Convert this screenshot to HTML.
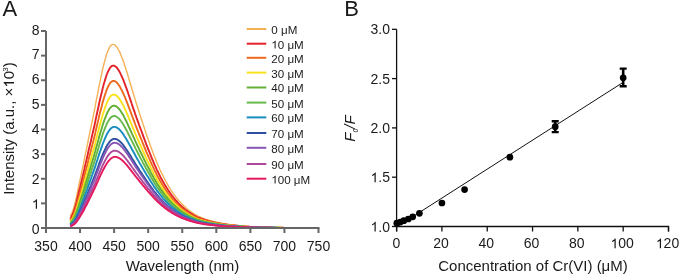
<!DOCTYPE html>
<html><head><meta charset="utf-8"><style>
html,body{margin:0;padding:0;background:#fff;}
svg{display:block;will-change:transform;}
text{font-family:"Liberation Sans",sans-serif;}
.o{fill-opacity:0}
</style></head><body>
<svg width="680" height="276" viewBox="0 0 680 276">

<text x="2.4" y="15.9" font-size="22" fill="#1a1a1a">A</text>
<text x="344.3" y="15.9" font-size="22" fill="#1a1a1a">B</text>
<g fill="none" stroke-linejoin="round">
<path stroke="#F4B055" stroke-width="1.4" d="M70.3,216.33L70.5,215.80L71.2,214.40L71.9,212.89L72.6,211.26L73.2,209.51L73.9,207.32L74.6,204.76L75.3,202.01L76.0,199.10L76.7,196.01L77.3,192.76L78.0,189.35L78.7,185.80L79.4,182.62L80.1,179.68L80.7,176.64L81.4,173.50L82.1,170.27L82.8,166.94L83.5,163.54L84.2,160.05L84.8,156.77L85.5,153.61L86.2,150.37L86.9,147.08L87.6,143.72L88.2,140.31L88.9,136.85L89.6,133.58L90.3,130.43L91.0,127.24L91.6,123.99L92.3,120.71L93.0,117.39L93.7,114.04L94.4,110.67L95.1,107.14L95.7,103.52L96.4,99.92L97.1,96.34L97.8,92.79L98.5,89.29L99.1,85.84L99.8,82.46L100.5,79.15L101.2,75.92L101.9,72.80L102.5,69.78L103.2,66.84L103.9,64.01L104.6,61.34L105.3,58.84L106.0,56.50L106.6,54.36L107.3,52.40L108.0,50.64L108.7,49.09L109.4,47.75L110.0,46.63L110.7,45.73L111.4,45.05L112.1,44.61L112.8,44.40L113.4,44.41L114.1,44.61L114.8,44.99L115.5,45.53L116.2,46.24L116.9,47.10L117.5,48.11L118.2,49.26L118.9,50.54L119.6,51.92L120.3,53.42L120.9,55.02L121.6,56.72L122.3,58.50L123.0,60.36L123.7,62.29L124.3,64.28L125.0,66.33L125.7,68.43L126.4,70.58L127.1,72.77L127.8,74.99L128.4,77.24L129.1,79.52L129.8,81.78L130.5,84.04L131.2,86.31L131.8,88.58L132.5,90.85L133.2,93.12L133.9,95.39L134.6,97.64L135.2,99.88L135.9,102.08L136.6,104.27L137.3,106.44L138.0,108.58L138.7,110.71L139.3,112.81L140.0,114.89L140.7,116.95L141.4,118.97L142.1,120.97L142.7,123.12L143.4,125.24L144.1,127.34L144.8,129.41L145.5,131.45L146.1,133.47L146.8,135.45L147.5,137.41L148.2,139.33L148.9,141.23L149.6,143.18L150.2,145.14L150.9,147.06L151.6,148.95L152.3,150.81L153.0,152.63L153.6,154.43L154.3,156.19L155.0,157.92L155.7,159.62L156.4,161.29L157.0,162.94L157.7,164.55L158.4,166.13L159.1,167.67L159.8,169.19L160.4,170.67L161.1,172.12L161.8,173.54L162.5,174.93L163.2,176.29L163.9,177.62L164.5,178.92L165.2,180.21L165.9,181.48L166.6,182.73L167.3,183.94L167.9,185.13L168.6,186.29L169.3,187.42L170.0,188.52L170.7,189.60L171.4,190.65L172.0,191.67L172.7,192.67L173.4,193.65L174.1,194.60L174.8,195.52L175.4,196.42L176.1,197.30L176.8,198.16L177.5,198.99L178.2,199.81L178.8,200.60L179.5,201.38L180.2,202.14L180.9,202.87L181.6,203.59L182.2,204.28L182.9,204.96L183.6,205.62L184.3,206.26L185.0,206.89L185.7,207.49L186.3,208.08L187.0,208.66L187.7,209.21L188.4,209.76L189.1,210.28L189.7,210.79L190.4,211.30L191.1,211.80L191.8,212.29L192.5,212.76L193.2,213.22L193.8,213.67L194.5,214.10L195.2,214.52L195.9,214.93L196.6,215.33L197.2,215.71L197.9,216.05L198.6,216.37L199.3,216.68L200.0,216.98L200.6,217.27L201.3,217.55L202.0,217.83L202.7,218.10L203.4,218.36L204.1,218.61L204.7,218.86L205.4,219.09L206.1,219.33L206.8,219.55L207.5,219.77L208.1,219.99L208.8,220.19L209.5,220.40L210.2,220.59L210.9,220.78L211.5,220.97L212.2,221.15L212.9,221.33L213.6,221.50L214.3,221.66L215.0,221.82L215.6,221.99L216.3,222.15L217.0,222.31L217.7,222.47L218.4,222.62L219.0,222.77L219.7,222.91L220.4,223.05L221.1,223.18L221.8,223.31L222.4,223.44L223.1,223.56L223.8,223.68L224.5,223.80L225.2,223.91L225.8,224.02L226.5,224.13L227.2,224.23L227.9,224.33L228.6,224.43L229.3,224.53L229.9,224.62L230.6,224.71L231.3,224.80L232.0,224.88L232.7,224.96L233.3,225.04L234.0,225.12L234.7,225.20L235.4,225.27L236.1,225.34L236.8,225.41L237.4,225.48L238.1,225.55L238.8,225.61L239.5,225.67L240.2,225.73L240.8,225.81L241.5,225.88L242.2,225.96L242.9,226.03L243.6,226.10L244.2,226.17L244.9,226.24L245.6,226.30L246.3,226.36L247.0,226.42L247.7,226.48L248.3,226.53L249.0,226.59L249.7,226.64L250.4,226.69L251.1,226.74L251.7,226.78L252.4,226.83L253.1,226.87L253.8,226.91L254.5,226.95L255.1,226.99L255.8,227.03L256.5,227.06L257.2,227.10L257.9,227.13L258.6,227.16L259.2,227.19L259.9,227.22L260.6,227.25L261.3,227.28L262.0,227.31L262.6,227.33L263.3,227.36L264.0,227.38L264.7,227.41L265.4,227.43L266.0,227.45L266.7,227.47L267.4,227.49L268.1,227.51L268.8,227.53L269.5,227.55L270.1,227.56L270.8,227.58L271.5,227.59L272.2,227.61L272.9,227.62L273.5,227.64L274.2,227.65L274.9,227.67L275.6,227.68L276.3,227.69L276.9,227.70L277.6,227.71L278.3,227.72L279.0,227.73L279.7,227.74L280.4,227.75L281.0,227.76L281.7,227.77L282.4,227.78L283.1,227.79L283.8,227.80L284.4,227.81"/>
<path stroke="#E3242B" stroke-width="1.9" d="M70.3,218.69L70.5,218.25L71.2,217.08L71.9,215.80L72.6,214.43L73.2,212.94L73.9,211.17L74.6,208.99L75.3,206.66L76.0,204.17L76.7,201.52L77.3,198.73L78.0,195.79L78.7,192.71L79.4,189.81L80.1,187.24L80.7,184.56L81.4,181.80L82.1,178.96L82.8,176.03L83.5,173.02L84.2,169.94L84.8,166.96L85.5,164.14L86.2,161.27L86.9,158.33L87.6,155.34L88.2,152.30L88.9,149.22L89.6,146.24L90.3,143.42L91.0,140.56L91.6,137.66L92.3,134.72L93.0,131.75L93.7,128.76L94.4,125.74L95.1,122.61L95.7,119.37L96.4,116.14L97.1,112.93L97.8,109.75L98.5,106.60L99.1,103.50L99.8,100.46L100.5,97.48L101.2,94.58L101.9,91.76L102.5,89.03L103.2,86.38L103.9,83.82L104.6,81.40L105.3,79.12L106.0,76.99L106.6,75.03L107.3,73.23L108.0,71.61L108.7,70.17L109.4,68.92L110.0,67.86L110.7,67.01L111.4,66.35L112.1,65.89L112.8,65.64L113.4,65.60L114.1,65.73L114.8,66.01L115.5,66.44L116.2,67.03L116.9,67.75L117.5,68.60L118.2,69.58L118.9,70.68L119.6,71.87L120.3,73.17L120.9,74.56L121.6,76.03L122.3,77.59L123.0,79.21L123.7,80.90L124.3,82.65L125.0,84.45L125.7,86.30L126.4,88.18L127.1,90.11L127.8,92.07L128.4,94.05L129.1,96.06L129.8,98.07L130.5,100.06L131.2,102.07L131.8,104.08L132.5,106.09L133.2,108.09L133.9,110.10L134.6,112.09L135.2,114.08L135.9,116.03L136.6,117.97L137.3,119.90L138.0,121.80L138.7,123.69L139.3,125.55L140.0,127.40L140.7,129.22L141.4,131.02L142.1,132.80L142.7,134.68L143.4,136.56L144.1,138.42L144.8,140.26L145.5,142.08L146.1,143.87L146.8,145.63L147.5,147.37L148.2,149.08L148.9,150.76L149.6,152.48L150.2,154.22L150.9,155.93L151.6,157.61L152.3,159.26L153.0,160.89L153.6,162.48L154.3,164.05L155.0,165.59L155.7,167.10L156.4,168.59L157.0,170.05L157.7,171.48L158.4,172.88L159.1,174.26L159.8,175.61L160.4,176.93L161.1,178.22L161.8,179.49L162.5,180.72L163.2,181.93L163.9,183.12L164.5,184.27L165.2,185.42L165.9,186.55L166.6,187.66L167.3,188.74L167.9,189.80L168.6,190.83L169.3,191.84L170.0,192.82L170.7,193.78L171.4,194.71L172.0,195.63L172.7,196.52L173.4,197.38L174.1,198.23L174.8,199.05L175.4,199.86L176.1,200.64L176.8,201.40L177.5,202.14L178.2,202.87L178.8,203.58L179.5,204.27L180.2,204.95L180.9,205.60L181.6,206.24L182.2,206.86L182.9,207.46L183.6,208.05L184.3,208.62L185.0,209.18L185.7,209.72L186.3,210.25L187.0,210.76L187.7,211.25L188.4,211.74L189.1,212.21L189.7,212.66L190.4,213.11L191.1,213.56L191.8,213.99L192.5,214.41L193.2,214.82L193.8,215.22L194.5,215.61L195.2,215.98L195.9,216.35L196.6,216.70L197.2,217.04L197.9,217.36L198.6,217.64L199.3,217.91L200.0,218.18L200.6,218.44L201.3,218.69L202.0,218.94L202.7,219.18L203.4,219.41L204.1,219.63L204.7,219.85L205.4,220.07L206.1,220.27L206.8,220.47L207.5,220.67L208.1,220.86L208.8,221.05L209.5,221.23L210.2,221.40L210.9,221.57L211.5,221.74L212.2,221.90L212.9,222.05L213.6,222.21L214.3,222.35L215.0,222.50L215.6,222.64L216.3,222.79L217.0,222.93L217.7,223.07L218.4,223.20L219.0,223.34L219.7,223.46L220.4,223.59L221.1,223.71L221.8,223.82L222.4,223.94L223.1,224.05L223.8,224.15L224.5,224.26L225.2,224.36L225.8,224.45L226.5,224.55L227.2,224.64L227.9,224.73L228.6,224.82L229.3,224.90L229.9,224.99L230.6,225.07L231.3,225.15L232.0,225.22L232.7,225.29L233.3,225.37L234.0,225.44L234.7,225.50L235.4,225.57L236.1,225.63L236.8,225.70L237.4,225.76L238.1,225.81L238.8,225.87L239.5,225.93L240.2,225.98L240.8,226.04L241.5,226.11L242.2,226.18L242.9,226.24L243.6,226.31L244.2,226.37L244.9,226.43L245.6,226.48L246.3,226.54L247.0,226.59L247.7,226.64L248.3,226.69L249.0,226.74L249.7,226.79L250.4,226.83L251.1,226.87L251.7,226.91L252.4,226.95L253.1,226.99L253.8,227.03L254.5,227.06L255.1,227.10L255.8,227.13L256.5,227.16L257.2,227.19L257.9,227.22L258.6,227.25L259.2,227.28L259.9,227.31L260.6,227.33L261.3,227.36L262.0,227.38L262.6,227.41L263.3,227.43L264.0,227.45L264.7,227.47L265.4,227.49L266.0,227.51L266.7,227.53L267.4,227.54L268.1,227.56L268.8,227.58L269.5,227.59L270.1,227.61L270.8,227.62L271.5,227.64L272.2,227.65L272.9,227.66L273.5,227.68L274.2,227.69L274.9,227.70L275.6,227.71L276.3,227.72L276.9,227.73L277.6,227.74L278.3,227.75L279.0,227.76L279.7,227.77L280.4,227.78L281.0,227.79L281.7,227.80L282.4,227.80L283.1,227.81L283.8,227.82L284.4,227.83"/>
<path stroke="#EE6A1F" stroke-width="1.9" d="M70.3,220.40L70.5,220.02L71.2,219.02L71.9,217.92L72.6,216.73L73.2,215.44L73.9,213.97L74.6,212.09L75.3,210.06L76.0,207.88L76.7,205.56L77.3,203.10L78.0,200.51L78.7,197.79L79.4,195.10L80.1,192.79L80.7,190.39L81.4,187.91L82.1,185.34L82.8,182.70L83.5,179.99L84.2,177.20L84.8,174.43L85.5,171.87L86.2,169.26L86.9,166.59L87.6,163.86L88.2,161.09L88.9,158.28L89.6,155.50L90.3,152.92L91.0,150.30L91.6,147.65L92.3,144.96L93.0,142.24L93.7,139.50L94.4,136.73L95.1,133.90L95.7,130.93L96.4,127.97L97.1,125.02L97.8,122.10L98.5,119.21L99.1,116.36L99.8,113.56L100.5,110.82L101.2,108.14L101.9,105.54L102.5,103.02L103.2,100.58L103.9,98.20L104.6,95.95L105.3,93.83L106.0,91.85L106.6,90.01L107.3,88.33L108.0,86.80L108.7,85.44L109.4,84.25L110.0,83.23L110.7,82.40L111.4,81.74L112.1,81.27L112.8,80.99L113.4,80.90L114.1,80.97L114.8,81.18L115.5,81.53L116.2,82.02L116.9,82.63L117.5,83.37L118.2,84.23L118.9,85.19L119.6,86.25L120.3,87.39L120.9,88.63L121.6,89.94L122.3,91.33L123.0,92.78L123.7,94.30L124.3,95.86L125.0,97.48L125.7,99.14L126.4,100.84L127.1,102.58L127.8,104.34L128.4,106.13L129.1,107.95L129.8,109.77L130.5,111.57L131.2,113.39L131.8,115.21L132.5,117.03L133.2,118.85L133.9,120.66L134.6,122.47L135.2,124.28L135.9,126.05L136.6,127.81L137.3,129.56L138.0,131.29L138.7,133.00L139.3,134.70L140.0,136.38L140.7,138.03L141.4,139.67L142.1,141.29L142.7,142.97L143.4,144.68L144.1,146.38L144.8,148.05L145.5,149.70L146.1,151.32L146.8,152.93L147.5,154.51L148.2,156.07L148.9,157.60L149.6,159.15L150.2,160.73L150.9,162.29L151.6,163.82L152.3,165.32L153.0,166.80L153.6,168.25L154.3,169.68L155.0,171.08L155.7,172.46L156.4,173.81L157.0,175.14L157.7,176.45L158.4,177.73L159.1,178.98L159.8,180.21L160.4,181.41L161.1,182.59L161.8,183.74L162.5,184.87L163.2,185.98L163.9,187.06L164.5,188.11L165.2,189.15L165.9,190.18L166.6,191.19L167.3,192.18L167.9,193.14L168.6,194.08L169.3,195.00L170.0,195.90L170.7,196.77L171.4,197.62L172.0,198.46L172.7,199.27L173.4,200.06L174.1,200.83L174.8,201.58L175.4,202.32L176.1,203.03L176.8,203.73L177.5,204.40L178.2,205.06L178.8,205.71L179.5,206.34L180.2,206.96L180.9,207.56L181.6,208.14L182.2,208.70L182.9,209.26L183.6,209.79L184.3,210.31L185.0,210.82L185.7,211.31L186.3,211.79L187.0,212.26L187.7,212.71L188.4,213.15L189.1,213.58L189.7,214.00L190.4,214.41L191.1,214.82L191.8,215.21L192.5,215.60L193.2,215.97L193.8,216.33L194.5,216.68L195.2,217.03L195.9,217.36L196.6,217.68L197.2,217.99L197.9,218.29L198.6,218.55L199.3,218.80L200.0,219.04L200.6,219.28L201.3,219.51L202.0,219.73L202.7,219.95L203.4,220.16L204.1,220.37L204.7,220.57L205.4,220.76L206.1,220.95L206.8,221.13L207.5,221.31L208.1,221.49L208.8,221.65L209.5,221.82L210.2,221.98L210.9,222.13L211.5,222.29L212.2,222.43L212.9,222.58L213.6,222.71L214.3,222.85L215.0,222.98L215.6,223.11L216.3,223.25L217.0,223.38L217.7,223.50L218.4,223.62L219.0,223.74L219.7,223.86L220.4,223.97L221.1,224.08L221.8,224.19L222.4,224.29L223.1,224.39L223.8,224.49L224.5,224.58L225.2,224.68L225.8,224.76L226.5,224.85L227.2,224.94L227.9,225.02L228.6,225.10L229.3,225.18L229.9,225.25L230.6,225.32L231.3,225.40L232.0,225.46L232.7,225.53L233.3,225.60L234.0,225.66L234.7,225.72L235.4,225.78L236.1,225.84L236.8,225.90L237.4,225.95L238.1,226.01L238.8,226.06L239.5,226.11L240.2,226.16L240.8,226.21L241.5,226.27L242.2,226.34L242.9,226.40L243.6,226.45L244.2,226.51L244.9,226.56L245.6,226.61L246.3,226.66L247.0,226.71L247.7,226.76L248.3,226.80L249.0,226.85L249.7,226.89L250.4,226.93L251.1,226.97L251.7,227.01L252.4,227.04L253.1,227.08L253.8,227.11L254.5,227.14L255.1,227.18L255.8,227.21L256.5,227.24L257.2,227.26L257.9,227.29L258.6,227.32L259.2,227.34L259.9,227.37L260.6,227.39L261.3,227.41L262.0,227.44L262.6,227.46L263.3,227.48L264.0,227.50L264.7,227.51L265.4,227.53L266.0,227.55L266.7,227.57L267.4,227.58L268.1,227.60L268.8,227.61L269.5,227.63L270.1,227.64L270.8,227.66L271.5,227.67L272.2,227.68L272.9,227.69L273.5,227.71L274.2,227.72L274.9,227.73L275.6,227.74L276.3,227.75L276.9,227.76L277.6,227.77L278.3,227.77L279.0,227.78L279.7,227.79L280.4,227.80L281.0,227.81L281.7,227.81L282.4,227.82L283.1,227.83L283.8,227.84L284.4,227.84"/>
<path stroke="#F9E11B" stroke-width="1.9" d="M70.3,221.79L70.5,221.46L71.2,220.60L71.9,219.66L72.6,218.63L73.2,217.52L73.9,216.29L74.6,214.66L75.3,212.90L76.0,211.00L76.7,208.97L77.3,206.80L78.0,204.52L78.7,202.11L79.4,199.62L80.1,197.55L80.7,195.39L81.4,193.16L82.1,190.85L82.8,188.47L83.5,186.02L84.2,183.50L84.8,180.94L85.5,178.61L86.2,176.23L86.9,173.80L87.6,171.32L88.2,168.79L88.9,166.22L89.6,163.64L90.3,161.28L91.0,158.88L91.6,156.45L92.3,153.99L93.0,151.49L93.7,148.98L94.4,146.44L95.1,143.88L95.7,141.16L96.4,138.44L97.1,135.73L97.8,133.05L98.5,130.39L99.1,127.77L99.8,125.19L100.5,122.66L101.2,120.19L101.9,117.79L102.5,115.46L103.2,113.21L103.9,111.01L104.6,108.92L105.3,106.95L106.0,105.10L106.6,103.38L107.3,101.80L108.0,100.36L108.7,99.08L109.4,97.94L110.0,96.97L110.7,96.16L111.4,95.51L112.1,95.04L112.8,94.73L113.4,94.60L114.1,94.62L114.8,94.77L115.5,95.05L116.2,95.46L116.9,95.98L117.5,96.62L118.2,97.36L118.9,98.21L119.6,99.14L120.3,100.16L120.9,101.25L121.6,102.42L122.3,103.66L123.0,104.97L123.7,106.33L124.3,107.73L125.0,109.19L125.7,110.68L126.4,112.21L127.1,113.78L127.8,115.37L128.4,116.99L129.1,118.63L129.8,120.28L130.5,121.92L131.2,123.57L131.8,125.21L132.5,126.87L133.2,128.52L133.9,130.16L134.6,131.81L135.2,133.44L135.9,135.06L136.6,136.66L137.3,138.25L138.0,139.82L138.7,141.38L139.3,142.92L140.0,144.45L140.7,145.96L141.4,147.45L142.1,148.92L142.7,150.43L143.4,151.99L144.1,153.53L144.8,155.05L145.5,156.56L146.1,158.04L146.8,159.50L147.5,160.94L148.2,162.36L148.9,163.76L149.6,165.15L150.2,166.59L150.9,168.01L151.6,169.40L152.3,170.78L153.0,172.13L153.6,173.45L154.3,174.75L155.0,176.03L155.7,177.29L156.4,178.52L157.0,179.73L157.7,180.92L158.4,182.09L159.1,183.24L159.8,184.36L160.4,185.45L161.1,186.53L161.8,187.58L162.5,188.61L163.2,189.62L163.9,190.60L164.5,191.56L165.2,192.51L165.9,193.45L166.6,194.37L167.3,195.27L167.9,196.15L168.6,197.01L169.3,197.85L170.0,198.67L170.7,199.47L171.4,200.25L172.0,201.01L172.7,201.75L173.4,202.47L174.1,203.17L174.8,203.86L175.4,204.53L176.1,205.18L176.8,205.82L177.5,206.44L178.2,207.04L178.8,207.63L179.5,208.21L180.2,208.77L180.9,209.32L181.6,209.85L182.2,210.37L182.9,210.87L183.6,211.36L184.3,211.84L185.0,212.30L185.7,212.75L186.3,213.19L187.0,213.61L187.7,214.03L188.4,214.43L189.1,214.82L189.7,215.20L190.4,215.57L191.1,215.95L191.8,216.31L192.5,216.66L193.2,217.00L193.8,217.33L194.5,217.66L195.2,217.97L195.9,218.27L196.6,218.57L197.2,218.85L197.9,219.13L198.6,219.36L199.3,219.59L200.0,219.81L200.6,220.03L201.3,220.24L202.0,220.45L202.7,220.64L203.4,220.84L204.1,221.03L204.7,221.21L205.4,221.39L206.1,221.56L206.8,221.73L207.5,221.89L208.1,222.05L208.8,222.20L209.5,222.35L210.2,222.50L210.9,222.64L211.5,222.78L212.2,222.91L212.9,223.05L213.6,223.17L214.3,223.30L215.0,223.42L215.6,223.53L216.3,223.66L217.0,223.77L217.7,223.89L218.4,224.00L219.0,224.11L219.7,224.22L220.4,224.32L221.1,224.42L221.8,224.52L222.4,224.61L223.1,224.70L223.8,224.79L224.5,224.88L225.2,224.96L225.8,225.04L226.5,225.12L227.2,225.20L227.9,225.28L228.6,225.35L229.3,225.42L229.9,225.49L230.6,225.56L231.3,225.62L232.0,225.68L232.7,225.74L233.3,225.80L234.0,225.86L234.7,225.92L235.4,225.97L236.1,226.03L236.8,226.08L237.4,226.13L238.1,226.18L238.8,226.23L239.5,226.27L240.2,226.32L240.8,226.36L241.5,226.42L242.2,226.48L242.9,226.53L243.6,226.58L244.2,226.64L244.9,226.68L245.6,226.73L246.3,226.78L247.0,226.82L247.7,226.86L248.3,226.91L249.0,226.95L249.7,226.98L250.4,227.02L251.1,227.06L251.7,227.09L252.4,227.12L253.1,227.16L253.8,227.19L254.5,227.22L255.1,227.25L255.8,227.27L256.5,227.30L257.2,227.33L257.9,227.35L258.6,227.38L259.2,227.40L259.9,227.42L260.6,227.44L261.3,227.46L262.0,227.48L262.6,227.50L263.3,227.52L264.0,227.54L264.7,227.56L265.4,227.57L266.0,227.59L266.7,227.60L267.4,227.62L268.1,227.63L268.8,227.65L269.5,227.66L270.1,227.67L270.8,227.69L271.5,227.70L272.2,227.71L272.9,227.72L273.5,227.73L274.2,227.74L274.9,227.75L275.6,227.76L276.3,227.77L276.9,227.78L277.6,227.79L278.3,227.79L279.0,227.80L279.7,227.81L280.4,227.82L281.0,227.82L281.7,227.83L282.4,227.84L283.1,227.84L283.8,227.85L284.4,227.85"/>
<path stroke="#62B032" stroke-width="1.9" d="M70.3,222.87L70.5,222.59L71.2,221.84L71.9,221.03L72.6,220.13L73.2,219.16L73.9,218.10L74.6,216.70L75.3,215.15L76.0,213.48L76.7,211.68L77.3,209.76L78.0,207.73L78.7,205.57L79.4,203.31L80.1,201.38L80.7,199.43L81.4,197.40L82.1,195.31L82.8,193.14L83.5,190.90L84.2,188.60L84.8,186.24L85.5,184.07L86.2,181.88L86.9,179.65L87.6,177.37L88.2,175.04L88.9,172.67L89.6,170.27L90.3,168.06L91.0,165.85L91.6,163.60L92.3,161.32L93.0,159.01L93.7,156.69L94.4,154.34L95.1,151.98L95.7,149.47L96.4,146.95L97.1,144.44L97.8,141.95L98.5,139.48L99.1,137.05L99.8,134.65L100.5,132.29L101.2,129.99L101.9,127.75L102.5,125.58L103.2,123.48L103.9,121.42L104.6,119.46L105.3,117.60L106.0,115.86L106.6,114.24L107.3,112.75L108.0,111.38L108.7,110.16L109.4,109.07L110.0,108.13L110.7,107.34L111.4,106.70L112.1,106.21L112.8,105.89L113.4,105.72L114.1,105.70L114.8,105.80L115.5,106.02L116.2,106.36L116.9,106.81L117.5,107.36L118.2,108.02L118.9,108.77L119.6,109.60L120.3,110.51L120.9,111.49L121.6,112.55L122.3,113.66L123.0,114.84L123.7,116.08L124.3,117.35L125.0,118.67L125.7,120.04L126.4,121.43L127.1,122.86L127.8,124.31L128.4,125.79L129.1,127.29L129.8,128.80L130.5,130.31L131.2,131.81L131.8,133.32L132.5,134.83L133.2,136.35L133.9,137.86L134.6,139.37L135.2,140.87L135.9,142.36L136.6,143.83L137.3,145.29L138.0,146.74L138.7,148.17L139.3,149.59L140.0,150.99L140.7,152.38L141.4,153.75L142.1,155.10L142.7,156.47L143.4,157.91L144.1,159.32L144.8,160.73L145.5,162.11L146.1,163.47L146.8,164.82L147.5,166.15L148.2,167.45L148.9,168.74L149.6,170.01L150.2,171.34L150.9,172.64L151.6,173.93L152.3,175.19L153.0,176.44L153.6,177.66L154.3,178.86L155.0,180.04L155.7,181.19L156.4,182.33L157.0,183.45L157.7,184.55L158.4,185.62L159.1,186.68L159.8,187.71L160.4,188.72L161.1,189.71L161.8,190.68L162.5,191.63L163.2,192.56L163.9,193.47L164.5,194.36L165.2,195.23L165.9,196.10L166.6,196.95L167.3,197.78L167.9,198.59L168.6,199.38L169.3,200.16L170.0,200.91L170.7,201.65L171.4,202.37L172.0,203.07L172.7,203.75L173.4,204.42L174.1,205.07L174.8,205.70L175.4,206.32L176.1,206.93L176.8,207.51L177.5,208.08L178.2,208.64L178.8,209.19L179.5,209.72L180.2,210.24L180.9,210.74L181.6,211.23L182.2,211.71L182.9,212.17L183.6,212.63L184.3,213.07L185.0,213.50L185.7,213.91L186.3,214.32L187.0,214.71L187.7,215.09L188.4,215.47L189.1,215.83L189.7,216.18L190.4,216.52L191.1,216.86L191.8,217.20L192.5,217.52L193.2,217.84L193.8,218.14L194.5,218.44L195.2,218.73L195.9,219.01L196.6,219.28L197.2,219.55L197.9,219.80L198.6,220.02L199.3,220.24L200.0,220.44L200.6,220.64L201.3,220.84L202.0,221.02L202.7,221.21L203.4,221.39L204.1,221.56L204.7,221.73L205.4,221.89L206.1,222.05L206.8,222.21L207.5,222.36L208.1,222.51L208.8,222.65L209.5,222.79L210.2,222.92L210.9,223.05L211.5,223.18L212.2,223.30L212.9,223.43L213.6,223.54L214.3,223.66L215.0,223.77L215.6,223.88L216.3,223.99L217.0,224.10L217.7,224.20L218.4,224.31L219.0,224.41L219.7,224.51L220.4,224.60L221.1,224.69L221.8,224.78L222.4,224.87L223.1,224.95L223.8,225.04L224.5,225.12L225.2,225.19L225.8,225.27L226.5,225.34L227.2,225.41L227.9,225.48L228.6,225.55L229.3,225.62L229.9,225.68L230.6,225.74L231.3,225.80L232.0,225.86L232.7,225.92L233.3,225.97L234.0,226.03L234.7,226.08L235.4,226.13L236.1,226.18L236.8,226.23L237.4,226.27L238.1,226.32L238.8,226.36L239.5,226.40L240.2,226.45L240.8,226.49L241.5,226.54L242.2,226.59L242.9,226.64L243.6,226.69L244.2,226.74L244.9,226.78L245.6,226.83L246.3,226.87L247.0,226.91L247.7,226.95L248.3,226.99L249.0,227.02L249.7,227.06L250.4,227.09L251.1,227.13L251.7,227.16L252.4,227.19L253.1,227.22L253.8,227.25L254.5,227.28L255.1,227.30L255.8,227.33L256.5,227.35L257.2,227.38L257.9,227.40L258.6,227.42L259.2,227.44L259.9,227.46L260.6,227.48L261.3,227.50L262.0,227.52L262.6,227.54L263.3,227.56L264.0,227.57L264.7,227.59L265.4,227.60L266.0,227.62L266.7,227.63L267.4,227.65L268.1,227.66L268.8,227.67L269.5,227.69L270.1,227.70L270.8,227.71L271.5,227.72L272.2,227.73L272.9,227.74L273.5,227.75L274.2,227.76L274.9,227.77L275.6,227.78L276.3,227.79L276.9,227.79L277.6,227.80L278.3,227.81L279.0,227.82L279.7,227.82L280.4,227.83L281.0,227.84L281.7,227.84L282.4,227.85L283.1,227.85L283.8,227.86L284.4,227.87"/>
<path stroke="#68B94B" stroke-width="1.9" d="M70.3,223.76L70.5,223.53L71.2,222.88L71.9,222.18L72.6,221.40L73.2,220.55L73.9,219.62L74.6,218.44L75.3,217.09L76.0,215.62L76.7,214.03L77.3,212.33L78.0,210.52L78.7,208.60L79.4,206.58L80.1,204.76L80.7,203.00L81.4,201.16L82.1,199.26L82.8,197.29L83.5,195.26L84.2,193.16L84.8,191.01L85.5,188.98L86.2,186.97L86.9,184.92L87.6,182.82L88.2,180.69L88.9,178.51L89.6,176.30L90.3,174.22L91.0,172.18L91.6,170.10L92.3,168.00L93.0,165.87L93.7,163.72L94.4,161.55L95.1,159.37L95.7,157.07L96.4,154.74L97.1,152.42L97.8,150.11L98.5,147.83L99.1,145.57L99.8,143.34L100.5,141.15L101.2,139.01L101.9,136.92L102.5,134.90L103.2,132.94L103.9,131.03L104.6,129.19L105.3,127.45L106.0,125.82L106.6,124.29L107.3,122.88L108.0,121.58L108.7,120.42L109.4,119.38L110.0,118.47L110.7,117.71L111.4,117.08L112.1,116.59L112.8,116.25L113.4,116.06L114.1,116.00L114.8,116.06L115.5,116.23L116.2,116.51L116.9,116.89L117.5,117.37L118.2,117.94L118.9,118.60L119.6,119.34L120.3,120.15L120.9,121.04L121.6,121.98L122.3,122.99L123.0,124.06L123.7,125.17L124.3,126.33L125.0,127.53L125.7,128.77L126.4,130.04L127.1,131.33L127.8,132.66L128.4,134.01L129.1,135.38L129.8,136.76L130.5,138.14L131.2,139.51L131.8,140.90L132.5,142.28L133.2,143.67L133.9,145.05L134.6,146.44L135.2,147.81L135.9,149.18L136.6,150.53L137.3,151.87L138.0,153.20L138.7,154.51L139.3,155.82L140.0,157.11L140.7,158.38L141.4,159.64L142.1,160.88L142.7,162.12L143.4,163.44L144.1,164.75L144.8,166.03L145.5,167.31L146.1,168.56L146.8,169.80L147.5,171.02L148.2,172.22L148.9,173.40L149.6,174.57L150.2,175.78L150.9,176.98L151.6,178.17L152.3,179.33L153.0,180.47L153.6,181.60L154.3,182.70L155.0,183.79L155.7,184.85L156.4,185.90L157.0,186.93L157.7,187.94L158.4,188.93L159.1,189.90L159.8,190.85L160.4,191.79L161.1,192.70L161.8,193.59L162.5,194.47L163.2,195.32L163.9,196.16L164.5,196.98L165.2,197.78L165.9,198.58L166.6,199.36L167.3,200.13L167.9,200.87L168.6,201.60L169.3,202.32L170.0,203.01L170.7,203.69L171.4,204.36L172.0,205.00L172.7,205.63L173.4,206.25L174.1,206.85L174.8,207.43L175.4,208.00L176.1,208.56L176.8,209.10L177.5,209.63L178.2,210.14L178.8,210.64L179.5,211.13L180.2,211.61L180.9,212.08L181.6,212.53L182.2,212.97L182.9,213.40L183.6,213.82L184.3,214.22L185.0,214.62L185.7,215.00L186.3,215.37L187.0,215.74L187.7,216.09L188.4,216.43L189.1,216.77L189.7,217.09L190.4,217.41L191.1,217.72L191.8,218.03L192.5,218.33L193.2,218.62L193.8,218.90L194.5,219.18L195.2,219.44L195.9,219.70L196.6,219.95L197.2,220.20L197.9,220.43L198.6,220.64L199.3,220.84L200.0,221.03L200.6,221.21L201.3,221.39L202.0,221.57L202.7,221.74L203.4,221.90L204.1,222.06L204.7,222.22L205.4,222.37L206.1,222.52L206.8,222.66L207.5,222.80L208.1,222.93L208.8,223.06L209.5,223.19L210.2,223.32L210.9,223.44L211.5,223.56L212.2,223.67L212.9,223.78L213.6,223.89L214.3,223.99L215.0,224.10L215.6,224.20L216.3,224.30L217.0,224.40L217.7,224.50L218.4,224.59L219.0,224.69L219.7,224.78L220.4,224.86L221.1,224.95L221.8,225.03L222.4,225.11L223.1,225.19L223.8,225.27L224.5,225.34L225.2,225.41L225.8,225.48L226.5,225.55L227.2,225.62L227.9,225.68L228.6,225.74L229.3,225.80L229.9,225.86L230.6,225.92L231.3,225.97L232.0,226.03L232.7,226.08L233.3,226.13L234.0,226.18L234.7,226.23L235.4,226.27L236.1,226.32L236.8,226.36L237.4,226.41L238.1,226.45L238.8,226.49L239.5,226.53L240.2,226.57L240.8,226.60L241.5,226.65L242.2,226.70L242.9,226.75L243.6,226.79L244.2,226.83L244.9,226.88L245.6,226.92L246.3,226.96L247.0,226.99L247.7,227.03L248.3,227.06L249.0,227.10L249.7,227.13L250.4,227.16L251.1,227.19L251.7,227.22L252.4,227.25L253.1,227.28L253.8,227.31L254.5,227.33L255.1,227.36L255.8,227.38L256.5,227.40L257.2,227.42L257.9,227.45L258.6,227.47L259.2,227.49L259.9,227.50L260.6,227.52L261.3,227.54L262.0,227.56L262.6,227.57L263.3,227.59L264.0,227.61L264.7,227.62L265.4,227.63L266.0,227.65L266.7,227.66L267.4,227.67L268.1,227.69L268.8,227.70L269.5,227.71L270.1,227.72L270.8,227.73L271.5,227.74L272.2,227.75L272.9,227.76L273.5,227.77L274.2,227.78L274.9,227.79L275.6,227.79L276.3,227.80L276.9,227.81L277.6,227.82L278.3,227.82L279.0,227.83L279.7,227.84L280.4,227.84L281.0,227.85L281.7,227.85L282.4,227.86L283.1,227.87L283.8,227.87L284.4,227.88"/>
<path stroke="#198CC0" stroke-width="1.9" d="M70.3,224.56L70.5,224.35L71.2,223.81L71.9,223.21L72.6,222.54L73.2,221.81L73.9,221.01L74.6,220.03L75.3,218.86L76.0,217.59L76.7,216.21L77.3,214.73L78.0,213.14L78.7,211.46L79.4,209.68L80.1,208.00L80.7,206.43L81.4,204.80L82.1,203.10L82.8,201.34L83.5,199.51L84.2,197.63L84.8,195.70L85.5,193.83L86.2,192.02L86.9,190.17L87.6,188.27L88.2,186.34L88.9,184.37L89.6,182.37L90.3,180.44L91.0,178.58L91.6,176.70L92.3,174.78L93.0,172.85L93.7,170.89L94.4,168.91L95.1,166.92L95.7,164.86L96.4,162.74L97.1,160.62L97.8,158.51L98.5,156.42L99.1,154.36L99.8,152.32L100.5,150.32L101.2,148.36L101.9,146.44L102.5,144.58L103.2,142.78L103.9,141.03L104.6,139.34L105.3,137.73L106.0,136.22L106.6,134.80L107.3,133.49L108.0,132.28L108.7,131.19L109.4,130.21L110.0,129.36L110.7,128.63L111.4,128.02L112.1,127.54L112.8,127.20L113.4,126.98L114.1,126.90L114.8,126.92L115.5,127.05L116.2,127.27L116.9,127.59L117.5,127.99L118.2,128.49L118.9,129.06L119.6,129.71L120.3,130.42L120.9,131.20L121.6,132.04L122.3,132.94L123.0,133.88L123.7,134.88L124.3,135.91L125.0,136.99L125.7,138.09L126.4,139.23L127.1,140.40L127.8,141.59L128.4,142.80L129.1,144.03L129.8,145.28L130.5,146.52L131.2,147.76L131.8,149.01L132.5,150.26L133.2,151.51L133.9,152.76L134.6,154.01L135.2,155.26L135.9,156.50L136.6,157.72L137.3,158.93L138.0,160.13L138.7,161.32L139.3,162.50L140.0,163.67L140.7,164.82L141.4,165.96L142.1,167.09L142.7,168.20L143.4,169.39L144.1,170.57L144.8,171.74L145.5,172.89L146.1,174.03L146.8,175.15L147.5,176.26L148.2,177.35L148.9,178.42L149.6,179.48L150.2,180.56L150.9,181.65L151.6,182.73L152.3,183.78L153.0,184.82L153.6,185.84L154.3,186.84L155.0,187.83L155.7,188.79L156.4,189.74L157.0,190.67L157.7,191.59L158.4,192.49L159.1,193.37L159.8,194.24L160.4,195.09L161.1,195.92L161.8,196.73L162.5,197.52L163.2,198.30L163.9,199.06L164.5,199.80L165.2,200.53L165.9,201.25L166.6,201.96L167.3,202.66L167.9,203.34L168.6,204.00L169.3,204.65L170.0,205.28L170.7,205.90L171.4,206.50L172.0,207.09L172.7,207.66L173.4,208.22L174.1,208.77L174.8,209.30L175.4,209.82L176.1,210.32L176.8,210.81L177.5,211.29L178.2,211.76L178.8,212.21L179.5,212.66L180.2,213.10L180.9,213.52L181.6,213.93L182.2,214.33L182.9,214.72L183.6,215.10L184.3,215.47L185.0,215.83L185.7,216.18L186.3,216.52L187.0,216.85L187.7,217.17L188.4,217.48L189.1,217.78L189.7,218.08L190.4,218.37L191.1,218.65L191.8,218.93L192.5,219.20L193.2,219.47L193.8,219.72L194.5,219.97L195.2,220.22L195.9,220.45L196.6,220.68L197.2,220.90L197.9,221.12L198.6,221.31L199.3,221.49L200.0,221.66L200.6,221.83L201.3,221.99L202.0,222.15L202.7,222.31L203.4,222.46L204.1,222.60L204.7,222.74L205.4,222.88L206.1,223.01L206.8,223.14L207.5,223.27L208.1,223.39L208.8,223.51L209.5,223.63L210.2,223.74L210.9,223.85L211.5,223.96L212.2,224.06L212.9,224.17L213.6,224.26L214.3,224.36L215.0,224.45L215.6,224.54L216.3,224.63L217.0,224.73L217.7,224.82L218.4,224.90L219.0,224.99L219.7,225.07L220.4,225.15L221.1,225.23L221.8,225.30L222.4,225.38L223.1,225.45L223.8,225.52L224.5,225.58L225.2,225.65L225.8,225.71L226.5,225.77L227.2,225.83L227.9,225.89L228.6,225.95L229.3,226.00L229.9,226.06L230.6,226.11L231.3,226.16L232.0,226.21L232.7,226.25L233.3,226.30L234.0,226.35L234.7,226.39L235.4,226.43L236.1,226.47L236.8,226.51L237.4,226.55L238.1,226.59L238.8,226.63L239.5,226.66L240.2,226.70L240.8,226.73L241.5,226.77L242.2,226.81L242.9,226.86L243.6,226.90L244.2,226.94L244.9,226.98L245.6,227.01L246.3,227.05L247.0,227.08L247.7,227.12L248.3,227.15L249.0,227.18L249.7,227.21L250.4,227.24L251.1,227.27L251.7,227.29L252.4,227.32L253.1,227.34L253.8,227.37L254.5,227.39L255.1,227.41L255.8,227.43L256.5,227.46L257.2,227.48L257.9,227.49L258.6,227.51L259.2,227.53L259.9,227.55L260.6,227.57L261.3,227.58L262.0,227.60L262.6,227.61L263.3,227.63L264.0,227.64L264.7,227.65L265.4,227.67L266.0,227.68L266.7,227.69L267.4,227.70L268.1,227.71L268.8,227.72L269.5,227.74L270.1,227.75L270.8,227.75L271.5,227.76L272.2,227.77L272.9,227.78L273.5,227.79L274.2,227.80L274.9,227.81L275.6,227.81L276.3,227.82L276.9,227.83L277.6,227.83L278.3,227.84L279.0,227.85L279.7,227.85L280.4,227.86L281.0,227.86L281.7,227.87L282.4,227.87L283.1,227.88L283.8,227.88L284.4,227.89"/>
<path stroke="#2E4FA0" stroke-width="1.9" d="M70.3,225.27L70.5,225.10L71.2,224.65L71.9,224.15L72.6,223.59L73.2,222.98L73.9,222.31L74.6,221.52L75.3,220.53L76.0,219.46L76.7,218.29L77.3,217.03L78.0,215.68L78.7,214.24L79.4,212.71L80.1,211.20L80.7,209.84L81.4,208.42L82.1,206.94L82.8,205.40L83.5,203.81L84.2,202.16L84.8,200.47L85.5,198.79L86.2,197.20L86.9,195.56L87.6,193.89L88.2,192.18L88.9,190.44L89.6,188.67L90.3,186.94L91.0,185.29L91.6,183.62L92.3,181.92L93.0,180.20L93.7,178.46L94.4,176.71L95.1,174.94L95.7,173.13L96.4,171.24L97.1,169.35L97.8,167.48L98.5,165.62L99.1,163.77L99.8,161.96L100.5,160.17L101.2,158.41L101.9,156.70L102.5,155.04L103.2,153.42L103.9,151.85L104.6,150.33L105.3,148.88L106.0,147.52L106.6,146.24L107.3,145.05L108.0,143.95L108.7,142.96L109.4,142.06L110.0,141.27L110.7,140.59L111.4,140.03L112.1,139.57L112.8,139.23L113.4,139.01L114.1,138.91L114.8,138.90L115.5,138.98L116.2,139.15L116.9,139.41L117.5,139.75L118.2,140.16L118.9,140.65L119.6,141.20L120.3,141.81L120.9,142.48L121.6,143.21L122.3,143.98L123.0,144.81L123.7,145.67L124.3,146.57L125.0,147.51L125.7,148.48L126.4,149.47L127.1,150.50L127.8,151.54L128.4,152.60L129.1,153.68L129.8,154.78L130.5,155.88L131.2,156.97L131.8,158.07L132.5,159.17L133.2,160.27L133.9,161.38L134.6,162.48L135.2,163.58L135.9,164.67L136.6,165.75L137.3,166.82L138.0,167.88L138.7,168.93L139.3,169.97L140.0,171.01L140.7,172.03L141.4,173.04L142.1,174.03L142.7,175.02L143.4,176.05L144.1,177.10L144.8,178.13L145.5,179.15L146.1,180.15L146.8,181.15L147.5,182.13L148.2,183.09L148.9,184.04L149.6,184.98L150.2,185.93L150.9,186.89L151.6,187.84L152.3,188.78L153.0,189.70L153.6,190.60L154.3,191.49L155.0,192.36L155.7,193.22L156.4,194.06L157.0,194.89L157.7,195.70L158.4,196.50L159.1,197.28L159.8,198.04L160.4,198.80L161.1,199.53L161.8,200.25L162.5,200.95L163.2,201.64L163.9,202.32L164.5,202.98L165.2,203.62L165.9,204.26L166.6,204.89L167.3,205.51L167.9,206.11L168.6,206.70L169.3,207.27L170.0,207.83L170.7,208.38L171.4,208.92L172.0,209.44L172.7,209.95L173.4,210.44L174.1,210.93L174.8,211.40L175.4,211.86L176.1,212.30L176.8,212.74L177.5,213.17L178.2,213.58L178.8,213.98L179.5,214.38L180.2,214.77L180.9,215.14L181.6,215.51L182.2,215.86L182.9,216.21L183.6,216.55L184.3,216.87L185.0,217.19L185.7,217.50L186.3,217.80L187.0,218.10L187.7,218.38L188.4,218.66L189.1,218.93L189.7,219.19L190.4,219.45L191.1,219.70L191.8,219.94L192.5,220.19L193.2,220.42L193.8,220.65L194.5,220.87L195.2,221.09L195.9,221.30L196.6,221.50L197.2,221.70L197.9,221.89L198.6,222.06L199.3,222.22L200.0,222.37L200.6,222.52L201.3,222.67L202.0,222.81L202.7,222.95L203.4,223.08L204.1,223.21L204.7,223.33L205.4,223.46L206.1,223.58L206.8,223.69L207.5,223.80L208.1,223.91L208.8,224.02L209.5,224.12L210.2,224.22L210.9,224.32L211.5,224.41L212.2,224.51L212.9,224.60L213.6,224.68L214.3,224.77L215.0,224.85L215.6,224.93L216.3,225.01L217.0,225.09L217.7,225.17L218.4,225.25L219.0,225.33L219.7,225.40L220.4,225.47L221.1,225.54L221.8,225.60L222.4,225.67L223.1,225.73L223.8,225.79L224.5,225.85L225.2,225.91L225.8,225.97L226.5,226.02L227.2,226.08L227.9,226.13L228.6,226.18L229.3,226.23L229.9,226.27L230.6,226.32L231.3,226.36L232.0,226.41L232.7,226.45L233.3,226.49L234.0,226.53L234.7,226.57L235.4,226.61L236.1,226.64L236.8,226.68L237.4,226.71L238.1,226.75L238.8,226.78L239.5,226.81L240.2,226.84L240.8,226.87L241.5,226.91L242.2,226.95L242.9,226.98L243.6,227.02L244.2,227.06L244.9,227.09L245.6,227.12L246.3,227.15L247.0,227.18L247.7,227.21L248.3,227.24L249.0,227.27L249.7,227.30L250.4,227.32L251.1,227.35L251.7,227.37L252.4,227.39L253.1,227.42L253.8,227.44L254.5,227.46L255.1,227.48L255.8,227.50L256.5,227.52L257.2,227.53L257.9,227.55L258.6,227.57L259.2,227.58L259.9,227.60L260.6,227.61L261.3,227.63L262.0,227.64L262.6,227.66L263.3,227.67L264.0,227.68L264.7,227.69L265.4,227.70L266.0,227.71L266.7,227.73L267.4,227.74L268.1,227.75L268.8,227.76L269.5,227.76L270.1,227.77L270.8,227.78L271.5,227.79L272.2,227.80L272.9,227.81L273.5,227.81L274.2,227.82L274.9,227.83L275.6,227.83L276.3,227.84L276.9,227.85L277.6,227.85L278.3,227.86L279.0,227.86L279.7,227.87L280.4,227.87L281.0,227.88L281.7,227.88L282.4,227.89L283.1,227.89L283.8,227.90L284.4,227.90"/>
<path stroke="#8857B5" stroke-width="1.9" d="M70.3,225.65L70.5,225.50L71.2,225.09L71.9,224.64L72.6,224.14L73.2,223.59L73.9,222.97L74.6,222.28L75.3,221.38L76.0,220.40L76.7,219.33L77.3,218.16L78.0,216.91L78.7,215.58L79.4,214.15L80.1,212.69L80.7,211.41L81.4,210.07L82.1,208.67L82.8,207.22L83.5,205.71L84.2,204.15L84.8,202.54L85.5,200.91L86.2,199.39L86.9,197.83L87.6,196.23L88.2,194.60L88.9,192.93L89.6,191.24L90.3,189.54L91.0,187.96L91.6,186.35L92.3,184.72L93.0,183.06L93.7,181.39L94.4,179.70L95.1,178.00L95.7,176.27L96.4,174.45L97.1,172.63L97.8,170.82L98.5,169.02L99.1,167.24L99.8,165.48L100.5,163.75L101.2,162.05L101.9,160.39L102.5,158.77L103.2,157.20L103.9,155.68L104.6,154.19L105.3,152.78L106.0,151.45L106.6,150.19L107.3,149.02L108.0,147.94L108.7,146.96L109.4,146.07L110.0,145.29L110.7,144.60L111.4,144.03L112.1,143.56L112.8,143.21L113.4,142.96L114.1,142.83L114.8,142.80L115.5,142.86L116.2,142.99L116.9,143.22L117.5,143.52L118.2,143.89L118.9,144.34L119.6,144.85L120.3,145.42L120.9,146.04L121.6,146.72L122.3,147.45L123.0,148.23L123.7,149.04L124.3,149.90L125.0,150.78L125.7,151.70L126.4,152.65L127.1,153.62L127.8,154.61L128.4,155.62L129.1,156.65L129.8,157.69L130.5,158.75L131.2,159.79L131.8,160.84L132.5,161.89L133.2,162.94L133.9,164.00L134.6,165.05L135.2,166.10L135.9,167.15L136.6,168.19L137.3,169.21L138.0,170.23L138.7,171.24L139.3,172.24L140.0,173.23L140.7,174.21L141.4,175.17L142.1,176.13L142.7,177.07L143.4,178.05L144.1,179.05L144.8,180.04L145.5,181.02L146.1,181.99L146.8,182.94L147.5,183.88L148.2,184.81L148.9,185.72L149.6,186.62L150.2,187.53L150.9,188.45L151.6,189.36L152.3,190.26L153.0,191.15L153.6,192.01L154.3,192.87L155.0,193.71L155.7,194.53L156.4,195.34L157.0,196.13L157.7,196.91L158.4,197.68L159.1,198.43L159.8,199.17L160.4,199.89L161.1,200.60L161.8,201.29L162.5,201.97L163.2,202.63L163.9,203.28L164.5,203.91L165.2,204.53L165.9,205.14L166.6,205.75L167.3,206.34L167.9,206.92L168.6,207.49L169.3,208.04L170.0,208.58L170.7,209.11L171.4,209.62L172.0,210.13L172.7,210.61L173.4,211.09L174.1,211.56L174.8,212.01L175.4,212.45L176.1,212.88L176.8,213.30L177.5,213.71L178.2,214.11L178.8,214.50L179.5,214.88L180.2,215.25L180.9,215.62L181.6,215.97L182.2,216.31L182.9,216.64L183.6,216.97L184.3,217.28L185.0,217.59L185.7,217.89L186.3,218.18L187.0,218.46L187.7,218.74L188.4,219.00L189.1,219.26L189.7,219.51L190.4,219.76L191.1,220.00L191.8,220.24L192.5,220.47L193.2,220.70L193.8,220.92L194.5,221.13L195.2,221.34L195.9,221.54L196.6,221.74L197.2,221.93L197.9,222.11L198.6,222.28L199.3,222.44L200.0,222.58L200.6,222.73L201.3,222.87L202.0,223.00L202.7,223.13L203.4,223.26L204.1,223.39L204.7,223.51L205.4,223.63L206.1,223.74L206.8,223.85L207.5,223.96L208.1,224.06L208.8,224.17L209.5,224.27L210.2,224.36L210.9,224.46L211.5,224.55L212.2,224.64L212.9,224.72L213.6,224.81L214.3,224.89L215.0,224.97L215.6,225.05L216.3,225.12L217.0,225.20L217.7,225.28L218.4,225.35L219.0,225.42L219.7,225.49L220.4,225.56L221.1,225.63L221.8,225.69L222.4,225.76L223.1,225.82L223.8,225.88L224.5,225.93L225.2,225.99L225.8,226.04L226.5,226.10L227.2,226.15L227.9,226.20L228.6,226.25L229.3,226.29L229.9,226.34L230.6,226.38L231.3,226.43L232.0,226.47L232.7,226.51L233.3,226.55L234.0,226.59L234.7,226.62L235.4,226.66L236.1,226.69L236.8,226.73L237.4,226.76L238.1,226.79L238.8,226.83L239.5,226.86L240.2,226.89L240.8,226.92L241.5,226.95L242.2,226.98L242.9,227.02L243.6,227.06L244.2,227.09L244.9,227.12L245.6,227.15L246.3,227.18L247.0,227.21L247.7,227.24L248.3,227.27L249.0,227.30L249.7,227.32L250.4,227.35L251.1,227.37L251.7,227.39L252.4,227.42L253.1,227.44L253.8,227.46L254.5,227.48L255.1,227.50L255.8,227.51L256.5,227.53L257.2,227.55L257.9,227.57L258.6,227.58L259.2,227.60L259.9,227.61L260.6,227.63L261.3,227.64L262.0,227.65L262.6,227.67L263.3,227.68L264.0,227.69L264.7,227.70L265.4,227.71L266.0,227.72L266.7,227.74L267.4,227.75L268.1,227.75L268.8,227.76L269.5,227.77L270.1,227.78L270.8,227.79L271.5,227.80L272.2,227.81L272.9,227.81L273.5,227.82L274.2,227.83L274.9,227.83L275.6,227.84L276.3,227.85L276.9,227.85L277.6,227.86L278.3,227.86L279.0,227.87L279.7,227.87L280.4,227.88L281.0,227.88L281.7,227.89L282.4,227.89L283.1,227.89L283.8,227.90L284.4,227.90"/>
<path stroke="#AE4A9C" stroke-width="1.9" d="M70.3,226.08L70.5,225.95L71.2,225.61L71.9,225.22L72.6,224.79L73.2,224.32L73.9,223.79L74.6,223.21L75.3,222.44L76.0,221.58L76.7,220.65L77.3,219.63L78.0,218.54L78.7,217.36L79.4,216.10L80.1,214.77L80.7,213.62L81.4,212.43L82.1,211.18L82.8,209.87L83.5,208.52L84.2,207.12L84.8,205.67L85.5,204.17L86.2,202.79L86.9,201.38L87.6,199.93L88.2,198.45L88.9,196.94L89.6,195.39L90.3,193.83L91.0,192.38L91.6,190.91L92.3,189.42L93.0,187.92L93.7,186.39L94.4,184.85L95.1,183.29L95.7,181.72L96.4,180.06L97.1,178.40L97.8,176.74L98.5,175.09L99.1,173.46L99.8,171.84L100.5,170.25L101.2,168.69L101.9,167.16L102.5,165.67L103.2,164.23L103.9,162.83L104.6,161.46L105.3,160.15L106.0,158.91L106.6,157.75L107.3,156.66L108.0,155.65L108.7,154.73L109.4,153.89L110.0,153.15L110.7,152.50L111.4,151.95L112.1,151.50L112.8,151.15L113.4,150.90L114.1,150.75L114.8,150.70L115.5,150.73L116.2,150.83L116.9,151.01L117.5,151.26L118.2,151.58L118.9,151.97L119.6,152.42L120.3,152.92L120.9,153.48L121.6,154.08L122.3,154.73L123.0,155.42L123.7,156.15L124.3,156.92L125.0,157.71L125.7,158.54L126.4,159.39L127.1,160.26L127.8,161.16L128.4,162.07L129.1,163.00L129.8,163.95L130.5,164.90L131.2,165.85L131.8,166.80L132.5,167.75L133.2,168.71L133.9,169.67L134.6,170.62L135.2,171.58L135.9,172.53L136.6,173.47L137.3,174.40L138.0,175.33L138.7,176.24L139.3,177.15L140.0,178.05L140.7,178.94L141.4,179.83L142.1,180.70L142.7,181.56L143.4,182.43L144.1,183.35L144.8,184.25L145.5,185.14L146.1,186.02L146.8,186.89L147.5,187.74L148.2,188.59L148.9,189.42L149.6,190.24L150.2,191.05L150.9,191.90L151.6,192.73L152.3,193.55L153.0,194.35L153.6,195.14L154.3,195.92L155.0,196.69L155.7,197.44L156.4,198.17L157.0,198.90L157.7,199.61L158.4,200.31L159.1,201.00L159.8,201.67L160.4,202.33L161.1,202.97L161.8,203.60L162.5,204.22L163.2,204.83L163.9,205.42L164.5,206.00L165.2,206.56L165.9,207.12L166.6,207.67L167.3,208.21L167.9,208.74L168.6,209.26L169.3,209.77L170.0,210.26L170.7,210.74L171.4,211.21L172.0,211.67L172.7,212.11L173.4,212.55L174.1,212.98L174.8,213.39L175.4,213.79L176.1,214.19L176.8,214.57L177.5,214.95L178.2,215.31L178.8,215.66L179.5,216.01L180.2,216.35L180.9,216.68L181.6,217.00L182.2,217.32L182.9,217.62L183.6,217.92L184.3,218.21L185.0,218.49L185.7,218.76L186.3,219.02L187.0,219.28L187.7,219.53L188.4,219.78L189.1,220.01L189.7,220.24L190.4,220.47L191.1,220.69L191.8,220.91L192.5,221.12L193.2,221.33L193.8,221.53L194.5,221.72L195.2,221.91L195.9,222.09L196.6,222.27L197.2,222.45L197.9,222.61L198.6,222.78L199.3,222.92L200.0,223.05L200.6,223.18L201.3,223.31L202.0,223.43L202.7,223.55L203.4,223.67L204.1,223.79L204.7,223.90L205.4,224.00L206.1,224.11L206.8,224.21L207.5,224.31L208.1,224.40L208.8,224.50L209.5,224.59L210.2,224.68L210.9,224.76L211.5,224.85L212.2,224.93L212.9,225.01L213.6,225.08L214.3,225.16L215.0,225.23L215.6,225.30L216.3,225.37L217.0,225.44L217.7,225.51L218.4,225.58L219.0,225.65L219.7,225.71L220.4,225.77L221.1,225.83L221.8,225.89L222.4,225.95L223.1,226.01L223.8,226.06L224.5,226.11L225.2,226.16L225.8,226.21L226.5,226.26L227.2,226.31L227.9,226.35L228.6,226.40L229.3,226.44L229.9,226.48L230.6,226.52L231.3,226.56L232.0,226.60L232.7,226.64L233.3,226.67L234.0,226.71L234.7,226.74L235.4,226.78L236.1,226.81L236.8,226.84L237.4,226.87L238.1,226.90L238.8,226.93L239.5,226.96L240.2,226.98L240.8,227.01L241.5,227.04L242.2,227.07L242.9,227.10L243.6,227.14L244.2,227.17L244.9,227.20L245.6,227.23L246.3,227.25L247.0,227.28L247.7,227.31L248.3,227.33L249.0,227.36L249.7,227.38L250.4,227.40L251.1,227.42L251.7,227.44L252.4,227.46L253.1,227.48L253.8,227.50L254.5,227.52L255.1,227.54L255.8,227.56L256.5,227.57L257.2,227.59L257.9,227.60L258.6,227.62L259.2,227.63L259.9,227.65L260.6,227.66L261.3,227.67L262.0,227.68L262.6,227.70L263.3,227.71L264.0,227.72L264.7,227.73L265.4,227.74L266.0,227.75L266.7,227.76L267.4,227.77L268.1,227.78L268.8,227.78L269.5,227.79L270.1,227.80L270.8,227.81L271.5,227.81L272.2,227.82L272.9,227.83L273.5,227.83L274.2,227.84L274.9,227.85L275.6,227.85L276.3,227.86L276.9,227.86L277.6,227.87L278.3,227.87L279.0,227.88L279.7,227.88L280.4,227.89L281.0,227.89L281.7,227.90L282.4,227.90L283.1,227.90L283.8,227.91L284.4,227.91"/>
<path stroke="#E6195E" stroke-width="1.9" d="M70.3,226.41L70.5,226.30L71.2,226.01L71.9,225.67L72.6,225.30L73.2,224.88L73.9,224.42L74.6,223.91L75.3,223.26L76.0,222.51L76.7,221.68L77.3,220.79L78.0,219.81L78.7,218.76L79.4,217.64L80.1,216.45L80.7,215.37L81.4,214.29L82.1,213.15L82.8,211.97L83.5,210.74L84.2,209.46L84.8,208.14L85.5,206.77L86.2,205.48L86.9,204.18L87.6,202.85L88.2,201.49L88.9,200.10L89.6,198.68L90.3,197.24L91.0,195.88L91.6,194.52L92.3,193.15L93.0,191.75L93.7,190.34L94.4,188.91L95.1,187.47L95.7,186.02L96.4,184.49L97.1,182.95L97.8,181.41L98.5,179.88L99.1,178.37L99.8,176.87L100.5,175.39L101.2,173.93L101.9,172.51L102.5,171.12L103.2,169.77L103.9,168.46L104.6,167.18L105.3,165.95L106.0,164.79L106.6,163.69L107.3,162.66L108.0,161.71L108.7,160.84L109.4,160.05L110.0,159.34L110.7,158.71L111.4,158.18L112.1,157.74L112.8,157.39L113.4,157.13L114.1,156.97L114.8,156.90L115.5,156.90L116.2,156.98L116.9,157.13L117.5,157.34L118.2,157.62L118.9,157.96L119.6,158.36L120.3,158.80L120.9,159.30L121.6,159.84L122.3,160.43L123.0,161.05L123.7,161.72L124.3,162.41L125.0,163.14L125.7,163.89L126.4,164.67L127.1,165.47L127.8,166.29L128.4,167.12L129.1,167.97L129.8,168.84L130.5,169.71L131.2,170.59L131.8,171.46L132.5,172.34L133.2,173.21L133.9,174.10L134.6,174.98L135.2,175.85L135.9,176.73L136.6,177.60L137.3,178.46L138.0,179.31L138.7,180.16L139.3,181.00L140.0,181.83L140.7,182.65L141.4,183.46L142.1,184.26L142.7,185.06L143.4,185.85L144.1,186.70L144.8,187.53L145.5,188.35L146.1,189.16L146.8,189.97L147.5,190.76L148.2,191.54L148.9,192.31L149.6,193.06L150.2,193.81L150.9,194.59L151.6,195.36L152.3,196.11L153.0,196.86L153.6,197.59L154.3,198.31L155.0,199.01L155.7,199.71L156.4,200.39L157.0,201.06L157.7,201.72L158.4,202.36L159.1,203.00L159.8,203.62L160.4,204.23L161.1,204.83L161.8,205.41L162.5,205.98L163.2,206.54L163.9,207.09L164.5,207.63L165.2,208.15L165.9,208.66L166.6,209.17L167.3,209.67L167.9,210.16L168.6,210.64L169.3,211.11L170.0,211.57L170.7,212.01L171.4,212.45L172.0,212.87L172.7,213.28L173.4,213.69L174.1,214.08L174.8,214.47L175.4,214.84L176.1,215.20L176.8,215.56L177.5,215.91L178.2,216.24L178.8,216.57L179.5,216.89L180.2,217.21L180.9,217.51L181.6,217.81L182.2,218.10L182.9,218.38L183.6,218.66L184.3,218.92L185.0,219.18L185.7,219.44L186.3,219.68L187.0,219.92L187.7,220.15L188.4,220.38L189.1,220.60L189.7,220.81L190.4,221.02L191.1,221.22L191.8,221.42L192.5,221.62L193.2,221.81L193.8,222.00L194.5,222.18L195.2,222.36L195.9,222.53L196.6,222.69L197.2,222.85L197.9,223.01L198.6,223.16L199.3,223.29L200.0,223.42L200.6,223.54L201.3,223.66L202.0,223.77L202.7,223.88L203.4,223.99L204.1,224.10L204.7,224.20L205.4,224.30L206.1,224.40L206.8,224.49L207.5,224.58L208.1,224.67L208.8,224.76L209.5,224.84L210.2,224.92L210.9,225.00L211.5,225.08L212.2,225.16L212.9,225.23L213.6,225.30L214.3,225.37L215.0,225.44L215.6,225.50L216.3,225.57L217.0,225.63L217.7,225.70L218.4,225.76L219.0,225.82L219.7,225.88L220.4,225.94L221.1,225.99L221.8,226.05L222.4,226.10L223.1,226.15L223.8,226.20L224.5,226.25L225.2,226.30L225.8,226.34L226.5,226.39L227.2,226.43L227.9,226.47L228.6,226.51L229.3,226.55L229.9,226.59L230.6,226.63L231.3,226.67L232.0,226.70L232.7,226.74L233.3,226.77L234.0,226.80L234.7,226.83L235.4,226.87L236.1,226.90L236.8,226.92L237.4,226.95L238.1,226.98L238.8,227.01L239.5,227.03L240.2,227.06L240.8,227.08L241.5,227.11L242.2,227.14L242.9,227.17L243.6,227.20L244.2,227.23L244.9,227.25L245.6,227.28L246.3,227.31L247.0,227.33L247.7,227.36L248.3,227.38L249.0,227.40L249.7,227.42L250.4,227.44L251.1,227.46L251.7,227.48L252.4,227.50L253.1,227.52L253.8,227.54L254.5,227.56L255.1,227.57L255.8,227.59L256.5,227.60L257.2,227.62L257.9,227.63L258.6,227.65L259.2,227.66L259.9,227.67L260.6,227.68L261.3,227.70L262.0,227.71L262.6,227.72L263.3,227.73L264.0,227.74L264.7,227.75L265.4,227.76L266.0,227.77L266.7,227.77L267.4,227.78L268.1,227.79L268.8,227.80L269.5,227.81L270.1,227.81L270.8,227.82L271.5,227.83L272.2,227.83L272.9,227.84L273.5,227.85L274.2,227.85L274.9,227.86L275.6,227.86L276.3,227.87L276.9,227.87L277.6,227.88L278.3,227.88L279.0,227.89L279.7,227.89L280.4,227.90L281.0,227.90L281.7,227.90L282.4,227.91L283.1,227.91L283.8,227.91L284.4,227.92"/>
</g>
<g stroke="#666666" stroke-width="2" fill="none">
<path d="M46,31.00V229"/>
<path d="M45,228H319.50"/>
<path d="M41,228.00H46"/>
<path d="M41,203.38H46"/>
<path d="M41,178.75H46"/>
<path d="M41,154.12H46"/>
<path d="M41,129.50H46"/>
<path d="M41,104.88H46"/>
<path d="M41,80.25H46"/>
<path d="M41,55.62H46"/>
<path d="M41,31.00H46"/>
<path d="M46.00,228V233"/>
<path d="M80.06,228V233"/>
<path d="M114.12,228V233"/>
<path d="M148.19,228V233"/>
<path d="M182.25,228V233"/>
<path d="M216.31,228V233"/>
<path d="M250.38,228V233"/>
<path d="M284.44,228V233"/>
<path d="M318.50,228V233"/>
</g>
<g font-size="14" fill="#1a1a1a" text-anchor="end">
<text x="39.6" y="233.72">0</text>
<text x="39.6" y="208.83"><tspan class="o">1</tspan></text>
<text x="39.6" y="183.94">2</text>
<text x="39.6" y="159.05">3</text>
<text x="39.6" y="134.16">4</text>
<text x="39.6" y="109.27">5</text>
<text x="39.6" y="84.38">6</text>
<text x="39.6" y="59.49">7</text>
<text x="39.6" y="34.60">8</text>
</g>
<g font-size="14" fill="#1a1a1a" text-anchor="middle">
<text x="46.00" y="250.7">350</text>
<text x="80.06" y="250.7">400</text>
<text x="114.12" y="250.7">450</text>
<text x="148.19" y="250.7">500</text>
<text x="182.25" y="250.7">550</text>
<text x="216.31" y="250.7">600</text>
<text x="250.38" y="250.7">650</text>
<text x="284.44" y="250.7">700</text>
<text x="318.50" y="250.7">750</text>
</g>
<text x="182.5" y="271" font-size="15" fill="#1a1a1a" text-anchor="middle">Wavelength (nm)</text>
<text transform="translate(14,128.5) rotate(-90)" font-size="15" fill="#1a1a1a" text-anchor="middle">Intensity (a.u., ×<tspan class="o">1</tspan>0<tspan font-size="8" dx="-0.6" dy="-6.3">3</tspan><tspan dy="6.3">)</tspan></text>
<g stroke-width="2">
<path stroke="#F4B055" d="M246.7,29.00H266.3"/>
<path stroke="#E3242B" d="M246.7,43.70H266.3"/>
<path stroke="#EE6A1F" d="M246.7,57.80H266.3"/>
<path stroke="#F9E11B" d="M246.7,72.60H266.3"/>
<path stroke="#62B032" d="M246.7,87.50H266.3"/>
<path stroke="#68B94B" d="M246.7,102.60H266.3"/>
<path stroke="#198CC0" d="M246.7,117.40H266.3"/>
<path stroke="#2E4FA0" d="M246.7,133.00H266.3"/>
<path stroke="#8857B5" d="M246.7,147.80H266.3"/>
<path stroke="#AE4A9C" d="M246.7,164.00H266.3"/>
<path stroke="#E6195E" d="M246.7,178.70H266.3"/>
</g>
<g font-size="11.6" fill="#1a1a1a">
<text x="271.3" y="33.90">0 μM</text>
<text x="271.3" y="48.60"><tspan class="o">1</tspan>0 μM</text>
<text x="271.3" y="62.70">20 μM</text>
<text x="271.3" y="77.50">30 μM</text>
<text x="271.3" y="92.40">40 μM</text>
<text x="271.3" y="107.50">50 μM</text>
<text x="271.3" y="122.30">60 μM</text>
<text x="271.3" y="137.90">70 μM</text>
<text x="271.3" y="152.70">80 μM</text>
<text x="271.3" y="168.90">90 μM</text>
<text x="271.3" y="183.60"><tspan class="o">1</tspan>00 μM</text>
</g>
<g stroke="#111" stroke-width="1.3" fill="none">
<path d="M396.6,29.30V231.5"/>
<path d="M396,226.5H668.50V231.5"/>
<path d="M392,226.50H396.6"/>
<path d="M392,177.20H396.6"/>
<path d="M392,127.90H396.6"/>
<path d="M392,78.60H396.6"/>
<path d="M392,29.30H396.6"/>
<path d="M396.60,226.5V231.5"/>
<path d="M441.92,226.5V231.5"/>
<path d="M487.23,226.5V231.5"/>
<path d="M532.55,226.5V231.5"/>
<path d="M577.87,226.5V231.5"/>
<path d="M623.18,226.5V231.5"/>
<path d="M668.50,226.5V231.5"/>
</g>
<g font-size="14" fill="#1a1a1a" text-anchor="end">
<text x="390" y="231.50"><tspan class="o">1</tspan>.0</text>
<text x="390" y="182.20"><tspan class="o">1</tspan>.5</text>
<text x="390" y="132.90">2.0</text>
<text x="390" y="83.60">2.5</text>
<text x="390" y="34.30">3.0</text>
</g>
<g font-size="14" fill="#1a1a1a" text-anchor="middle">
<text x="396.30" y="248.2">0</text>
<text x="440.92" y="248.2">20</text>
<text x="486.23" y="248.2">40</text>
<text x="531.55" y="248.2">60</text>
<text x="576.87" y="248.2">80</text>
<text x="622.18" y="248.2"><tspan class="o">1</tspan>00</text>
<text x="667.50" y="248.2"><tspan class="o">1</tspan>20</text>
</g>
<text x="533" y="271" font-size="15" fill="#1a1a1a" text-anchor="middle">Concentration of Cr(VI) (μM)</text>
<text transform="translate(355,128.5) rotate(-90)" font-size="15" fill="#1a1a1a" text-anchor="middle" font-style="italic">F<tspan font-size="7" dy="2.6">0</tspan><tspan dy="-2.6">/F</tspan></text>
<path d="M396.60,227.0L623.18,82.3" stroke="#111" stroke-width="1" fill="none"/>
<g fill="#000">
<circle cx="396.80" cy="223.20" r="3.35"/>
<circle cx="400.30" cy="222.10" r="3.35"/>
<circle cx="403.80" cy="220.70" r="3.35"/>
<circle cx="408.30" cy="219.00" r="3.35"/>
<circle cx="412.70" cy="216.80" r="3.35"/>
<circle cx="419.40" cy="213.30" r="3.35"/>
<circle cx="441.92" cy="203.00" r="3.35"/>
<circle cx="464.58" cy="189.60" r="3.35"/>
<circle cx="509.89" cy="157.20" r="3.35"/>
<circle cx="555.21" cy="126.70" r="3.35"/>
<circle cx="623.18" cy="77.80" r="3.35"/>
</g>
<g stroke="#000" fill="none">
<path stroke-width="2.6" d="M555.21,121.30V132.10"/>
<path stroke-width="2.4" d="M551.71,121.30H558.71M551.71,132.10H558.71"/>
<path stroke-width="2.6" d="M623.18,68.60V86.30"/>
<path stroke-width="2.4" d="M619.68,68.60H626.68M619.68,86.30H626.68"/>
</g>
<defs><path id="one" d="M583 0V1098Q518 1039 412 979Q307 920 223 890V1057Q374 1125 487 1222Q600 1318 647 1409H763V0Z"/></defs>
<use href="#one" fill="#1a1a1a" transform="translate(31.80,208.83) scale(0.00684,-0.00684)"/>
<use href="#one" fill="#1a1a1a" transform="translate(14,128.5) rotate(-90) translate(40.80,0.00) scale(0.00732,-0.00732)"/>
<use href="#one" fill="#1a1a1a" transform="translate(271.30,48.60) scale(0.00566,-0.00566)"/>
<use href="#one" fill="#1a1a1a" transform="translate(271.30,183.60) scale(0.00566,-0.00566)"/>
<use href="#one" fill="#1a1a1a" transform="translate(370.52,231.50) scale(0.00684,-0.00684)"/>
<use href="#one" fill="#1a1a1a" transform="translate(370.52,182.20) scale(0.00684,-0.00684)"/>
<use href="#one" fill="#1a1a1a" transform="translate(610.49,248.20) scale(0.00684,-0.00684)"/>
<use href="#one" fill="#1a1a1a" transform="translate(655.81,248.20) scale(0.00684,-0.00684)"/>
</svg></body></html>
